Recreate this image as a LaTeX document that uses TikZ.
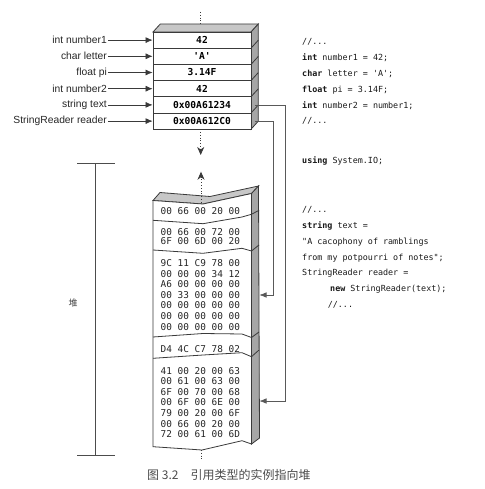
\documentclass[tikz,border=0pt]{standalone}
\usepackage{fontspec}
\setmonofont{DejaVu Sans Mono}
\newfontfamily\labelfont{Liberation Sans}
\newfontfamily\cjkfont{Noto Sans CJK SC}
\usetikzlibrary{arrows.meta}
\definecolor{edgegray}{HTML}{3A3A3A}
\def\heapcut(#1:#2:#3:#4:#5){\draw[edge] (153,#1) -- (203,#2) -- (242,#3) -- (251.5,#4) -- (259,#5);}

\begin{document}
\begin{tikzpicture}[x=1pt, y=-1pt,
		edge/.style={line width=0.8pt, color=edgegray},
		cell/.style={draw=edgegray, line width=0.8pt, fill=white, minimum width=98pt, minimum height=16.2pt, inner sep=0pt, font=\ttfamily\bfseries\fontsize{9.6}{10}\selectfont},
		varlabel/.style={anchor=east, inner sep=1pt, font=\labelfont\fontsize{10.3}{12}\selectfont, text=black!85},
		ptr/.style={line width=0.7pt, color=edgegray, -{Latex[length=7pt,width=6pt]}},
		link/.style={line width=0.6pt, color=black!65, -{Latex[length=7pt,width=5.5pt]}},
		flow/.style={line width=0.8pt, color=edgegray, dotted, -{Stealth[length=8pt,width=7pt,inset=2.5pt]}},
		hextext/.style={anchor=west, inner sep=0pt, align=left, text=black!85, font=\ttfamily\fontsize{9.4}{10.6}\selectfont},
		code/.style={anchor=west, inner sep=0pt, align=left, text=black!90, font=\ttfamily\fontsize{8.4}{15.8}\selectfont}]
		%%%%% START %%%%%
		
		\useasboundingbox (0,0) rectangle (484,489);
		
		% stack
		\coordinate (stacktop) at (200.7,12);
		\coordinate (stackback) at (200.7,24);
		\draw[edge, dotted] (stacktop) -- (stackback);
		\draw[edge, fill=black!22] (153,32) -- (160.3,24) -- (258.3,24) -- (251,32) -- cycle;
		\draw[edge, fill=black!35] (251,32) -- (258.3,24) -- (258.3,121.2) -- (251,129.2) -- cycle;
		\draw[edge] (251,48.2) -- (258.3,40.2);
		\draw[edge] (251,64.4) -- (258.3,56.4);
		\draw[edge] (251,80.6) -- (258.3,72.6);
		\draw[edge] (251,96.8) -- (258.3,88.8);
		\draw[edge] (251,113) -- (258.3,105);
		
		\node[cell] (number1) at (202,40.1) {42};
		\node[cell] (letter) at (202,56.3) {'A'};
		\node[cell] (pi) at (202,72.5) {3.14F};
		\node[cell] (number2) at (202,88.7) {42};
		\node[cell] (text) at (202,104.9) {0x00A61234};
		\node[cell] (reader) at (202,121.1) {0x00A612C0};
		
		\node[varlabel] (lnumber1) at (108,40.1) {int number1};
		\node[varlabel] (lletter) at (108,56.3) {char letter};
		\node[varlabel] (lpi) at (108,72.5) {float pi};
		\node[varlabel] (lnumber2) at (108,88.7) {int number2};
		\node[varlabel] (ltext) at (108,104.9) {string text};
		\node[varlabel] (lreader) at (108,121.1) {StringReader reader};
		
		\draw[ptr] (lnumber1) -- (number1);
		\draw[ptr] (lletter) -- (letter);
		\draw[ptr] (lpi) -- (pi);
		\draw[ptr] (lnumber2) -- (number2);
		\draw[ptr] (ltext) -- (text);
		\draw[ptr] (lreader) -- (reader);
		
		\coordinate (stackbot) at (200.7,129.2);
		\coordinate (growdown) at (200.7,155);
		\draw[flow] (stackbot) -- (growdown);
		
		% heap
		\draw[edge, fill=black!22] (153,200.5) -- (160,192.5) -- (210,196.5) -- (258.5,186) -- (251.5,193.5) -- (203,204) -- cycle;
		\draw[edge, fill=black!35] (251.5,193.5) -- (258.5,186) -- (259.5,438) -- (251.5,444) -- cycle;
		\draw[edge, fill=white] (153,200.5) -- (203,204) -- (251.5,193.5) -- (251.5,444) -- (242,440.7) -- (202,450) -- (153,446.7) -- cycle;
		
		\heapcut(220.3:223.7:217:214.3:210.3)
		\heapcut(250:253.3:248.3:251:245)
		\heapcut(337:333.5:334:337.5:332)
		\heapcut(358.3:355:352.7:356.7:350)
		
		\node[hextext] (row1) at (160.5,211.5) {00 66 00 20 00};
		\node[hextext, font=\ttfamily\fontsize{9.4}{9.4}\selectfont] (row2) at (160.5,236.4) {00 66 00 72 00\\6F 00 6D 00 20};
		\node[hextext] (row3) at (160.5,294.8) {9C 11 C9 78 00\\00 00 00 34 12\\A6 00 00 00 00\\00 33 00 00 00\\00 00 00 00 00\\00 00 00 00 00\\00 00 00 00 00};
		\node[hextext] (row4) at (160.5,349) {D4 4C C7 78 02};
		\node[hextext] (row5) at (160.5,402.5) {41 00 20 00 63\\00 61 00 63 00\\6F 00 70 00 68\\00 6F 00 6E 00\\79 00 20 00 6F\\00 66 00 20 00\\72 00 61 00 6D};
		
		\coordinate (heaptop) at (201,202.5);
		\coordinate (growup) at (201,171.7);
		\draw[flow] (heaptop) -- (growup);
		\coordinate (heapbot) at (201,450);
		\coordinate (heapend) at (201,461);
		\draw[edge, dotted] (heapbot) -- (heapend);
		
		% references into the heap
		\coordinate (textout) at (255,104.9);
		\coordinate (textin) at (259.5,401);
		\coordinate (readerout) at (255,121.1);
		\coordinate (readerin) at (259.5,295);
		\draw[link] (textout) -- ++(30,0) |- (textin);
		\draw[link] (readerout) -- ++(18,0) |- (readerin);
		
		% heap range
		\draw[line width=0.6pt, color=black!70] (77,163) -- (115,163);
		\draw[line width=0.6pt, color=black!70] (95,163) -- (95,455);
		\draw[line width=0.6pt, color=black!70] (77,455) -- (115,455);
		\node[font=\cjkfont\fontsize{9}{10}\selectfont, text=black!75] (heaplabel) at (73,303) {堆};
		
		% code
		\node[code] (code1) at (302,81.7) {//...\\\textbf{int} number1 = 42;\\\textbf{char} letter = 'A';\\\textbf{float} pi = 3.14F;\\\textbf{int} number2 = number1;\\//...};
		\node[code] (code2) at (302,161) {\textbf{using} System.IO;};
		\node[code] (code3) at (302,257.5) {//...\\\textbf{string} text =\\"A cacophony of ramblings\\from my potpourri of notes";\\StringReader reader =\\\hspace*{28pt}\textbf{new} StringReader(text);\\\hspace*{25.6pt}//...};
		
		\node[anchor=west, inner sep=0pt, font=\cjkfont\fontsize{12}{13}\selectfont, text=black!70] (caption) at (147,475) {图 3.2\quad 引用类型的实例指向堆};
		
		%%%%% END %%%%%
	\end{tikzpicture}
\end{document}
